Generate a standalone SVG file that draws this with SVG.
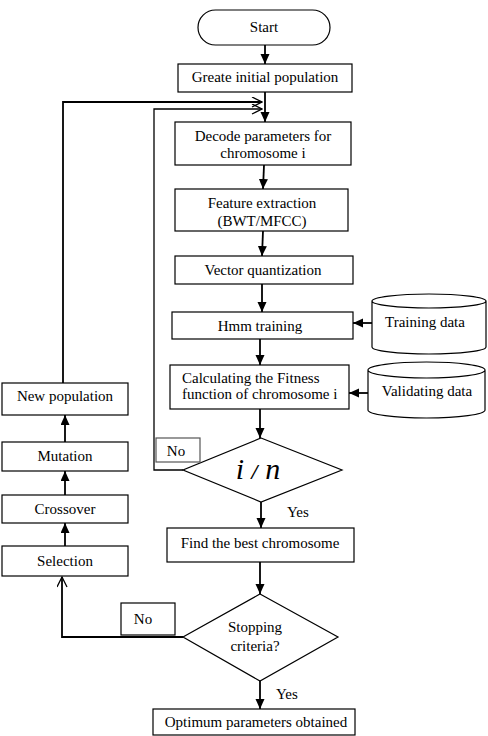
<svg xmlns="http://www.w3.org/2000/svg" width="488" height="736" viewBox="0 0 488 736">
<style>
text{font-family:'Liberation Serif','Times New Roman','DejaVu Serif',Times,serif}
.box{fill:#fff;stroke:#000;stroke-width:1.2}
.t{font-size:15px;fill:#000;text-anchor:middle}
.tl{font-size:15px;fill:#000}
.c{fill:none;stroke:#000;stroke-width:1.8}
</style>
<defs>
<marker id="ah" markerUnits="userSpaceOnUse" markerWidth="10" markerHeight="10" refX="10" refY="4.5" orient="auto"><path d="M0,0 L10,4.5 L0,9 Z" fill="#000"/></marker>
<marker id="oh" markerUnits="userSpaceOnUse" markerWidth="12" markerHeight="12" refX="11" refY="5.5" orient="auto"><path d="M1,0.5 L11,5.5 L1,10.5" fill="none" stroke="#000" stroke-width="1.3"/></marker>
</defs>
<g id="connectors">
<line class="c" x1="265" y1="45" x2="265" y2="64" marker-end="url(#ah)"/>
<line class="c" x1="265" y1="92" x2="265" y2="122" marker-end="url(#ah)"/>
<polyline class="c" points="63,383 63,102 262,102" marker-end="url(#oh)"/>
<polyline class="c" style="stroke-width:1.3" points="183,470 154,470 154,109 262,109" marker-end="url(#oh)"/>
<line class="c" x1="264" y1="165" x2="263" y2="189" marker-end="url(#ah)"/>
<line class="c" x1="263" y1="231" x2="262" y2="256" marker-end="url(#ah)"/>
<line class="c" x1="262" y1="284" x2="262" y2="312" marker-end="url(#ah)"/>
<line class="c" x1="260" y1="339" x2="260" y2="365" marker-end="url(#ah)"/>
<line class="c" x1="372" y1="323" x2="353" y2="323" marker-end="url(#ah)"/>
<line class="c" x1="368" y1="393" x2="349" y2="393" marker-end="url(#ah)"/>
<line class="c" x1="260" y1="409" x2="260" y2="438" marker-end="url(#ah)"/>
<line class="c" x1="261" y1="502" x2="261" y2="528" marker-end="url(#ah)"/>
<line class="c" x1="260" y1="562" x2="260" y2="594" marker-end="url(#ah)"/>
<line class="c" x1="260" y1="681" x2="260" y2="709" marker-end="url(#ah)"/>
<polyline class="c" points="183,637 62,637 62,577" marker-end="url(#oh)"/>
<line class="c" x1="65" y1="442" x2="65" y2="415" marker-end="url(#ah)"/>
<line class="c" x1="65" y1="495" x2="65" y2="471" marker-end="url(#ah)"/>
<line class="c" x1="65" y1="546" x2="65" y2="523" marker-end="url(#ah)"/>
</g>
<g id="start"><rect class="box" x="198" y="10" width="132" height="35" rx="17.5"/><text class="t" x="264" y="32">Start</text></g>
<g id="greate"><rect class="box" x="178" y="64" width="174" height="28"/><text class="t" x="265" y="82">Greate initial population</text></g>
<g id="decode"><rect class="box" x="175" y="122" width="176" height="43"/><text class="t" x="263" y="141">Decode parameters for</text><text class="t" x="263" y="158">chromosome i</text></g>
<g id="feature"><rect class="box" x="175" y="189" width="173" height="42"/><text class="t" x="262" y="208">Feature extraction</text><text class="t" x="262" y="226">(BWT/MFCC)</text></g>
<g id="vector"><rect class="box" x="175" y="256" width="178" height="28"/><text class="t" x="263" y="275">Vector quantization</text></g>
<g id="hmm"><rect class="box" x="172" y="312" width="181" height="27"/><text class="t" x="260" y="331">Hmm training</text></g>
<g id="calc"><rect class="box" x="170" y="365" width="179" height="44"/><text class="tl" x="182" y="383">Calculating the Fitness</text><text class="tl" x="182" y="399">function of chromosome i</text></g>
<g id="training"><path class="box" d="M372,301 A57,7 0 0 1 486,301 V347 A57,7 0 0 1 372,347 Z M372,301 A57,7 0 0 0 486,301"/><text class="t" x="425" y="327">Training data</text></g>
<g id="validating"><path class="box" d="M368,370 A58.5,8 0 0 1 485,370 V410 A58.5,8 0 0 1 368,410 Z M368,370 A58.5,8 0 0 0 485,370"/><text class="t" x="427" y="396">Validating data</text></g>
<g id="decision1"><polygon class="box" points="261,438 342,470 261,502 183,470"/><text x="258" y="479" style="font-style:italic;font-size:30px;text-anchor:middle">i <tspan font-size="22" font-weight="bold">/</tspan> n</text></g>
<g id="no1"><rect class="box" x="156" y="438" width="44" height="24" style="stroke:#555"/><text class="t" x="176" y="456">No</text></g>
<g id="yes1"><text class="tl" x="287" y="517">Yes</text></g>
<g id="find"><rect class="box" x="167" y="528" width="187" height="34"/><text class="t" x="260" y="548">Find the best chromosome</text></g>
<g id="decision2"><polygon class="box" points="260,594 338,637 260,681 183,637"/><text class="t" x="255" y="632">Stopping</text><text class="t" x="255" y="651">criteria?</text></g>
<g id="no2"><rect class="box" x="121" y="603" width="54" height="32"/><text class="t" x="143" y="624">No</text></g>
<g id="yes2"><text class="tl" x="276" y="699">Yes</text></g>
<g id="optimum"><rect class="box" x="153" y="709" width="202" height="26"/><text class="t" x="256" y="727">Optimum parameters obtained</text></g>
<g id="newpop"><rect class="box" x="2" y="383" width="126" height="32"/><text class="t" x="65" y="401">New population</text></g>
<g id="mutation"><rect class="box" x="2" y="442" width="126" height="29"/><text class="t" x="65" y="461">Mutation</text></g>
<g id="crossover"><rect class="box" x="2" y="495" width="126" height="28"/><text class="t" x="65" y="514">Crossover</text></g>
<g id="selection"><rect class="box" x="2" y="546" width="126" height="30"/><text class="t" x="65" y="566">Selection</text></g>
</svg>
